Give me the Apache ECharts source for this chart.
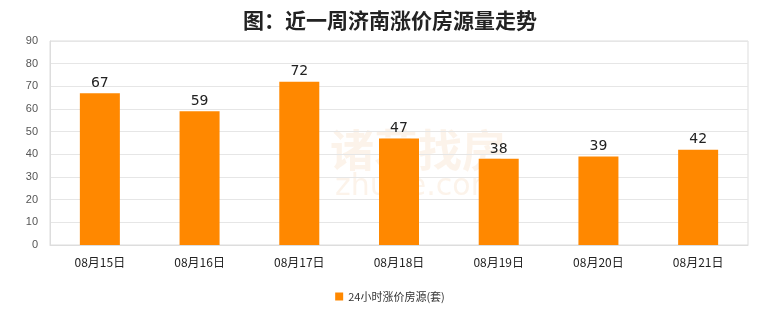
<!DOCTYPE html>
<html><head><meta charset="utf-8">
<script src="https://cdn.jsdelivr.net/npm/echarts@6/dist/echarts.min.js"></script>
<style>html,body{margin:0;padding:0;background:#fff}#c{width:780px;height:328px}</style>
</head><body><div id="c"></div>
<script>
const categories = ['08月15日','08月16日','08月17日','08月18日','08月19日','08月20日','08月21日'];
const values = [67,59,72,47,38,39,42];
const seriesName = '24小时涨价房源(套)';
const titleText = '图：近一周济南涨价房源量走势';

const chart = echarts.init(document.getElementById('c'));
chart.setOption({
  backgroundColor: '#fff',
  animation: false,
  title: {
    text: titleText, left: 'center', top: 5,
    textStyle: {fontSize: 21, fontWeight: 'bold', color: '#222', fontFamily: 'Noto Sans CJK SC'}
  },
  graphic: [{
    type: 'text', left: 330, top: 128, z: 0,
    style: {text: '诸葛找房', fontSize: 44, fontWeight: 'bold', fill: 'rgba(245,215,185,0.3)', fontFamily: 'Noto Sans CJK SC'}
  },{
    type: 'text', left: 335, top: 172, z: 0,
    style: {text: 'zhuge.com', fontSize: 30, fill: 'rgba(245,215,185,0.3)', fontFamily: 'DejaVu Sans'}
  }],
  legend: {
    bottom: 21, left: 'center', itemWidth: 8, itemHeight: 8, icon: 'rect',
    textStyle: {fontSize: 11, color: '#333', fontFamily: 'Noto Sans CJK SC'},
    data: [seriesName]
  },
  grid: {left: 50, right: 32, top: 41, bottom: 83, show: true, borderColor: '#ddd', borderWidth: 1},
  xAxis: {
    type: 'category', data: categories,
    axisLine: {lineStyle: {color: '#ddd'}}, axisTick: {show: false},
    axisLabel: {color: '#222', fontSize: 12, margin: 11, fontFamily: 'Noto Sans CJK SC'}
  },
  yAxis: {
    type: 'value', min: 0, max: 90, interval: 10,
    axisLine: {show: true, lineStyle: {color: '#ddd'}},
    splitLine: {lineStyle: {color: '#e6e6e6'}},
    axisLabel: {color: '#555', fontSize: 11, margin: 12}
  },
  series: [{
    name: seriesName, type: 'bar', data: values, barWidth: 40,
    itemStyle: {color: '#ff8800'},
    label: {show: true, position: 'top', color: '#222', fontSize: 14, distance: 3, fontFamily: 'DejaVu Sans'}
  }]
});
</script></body></html>
